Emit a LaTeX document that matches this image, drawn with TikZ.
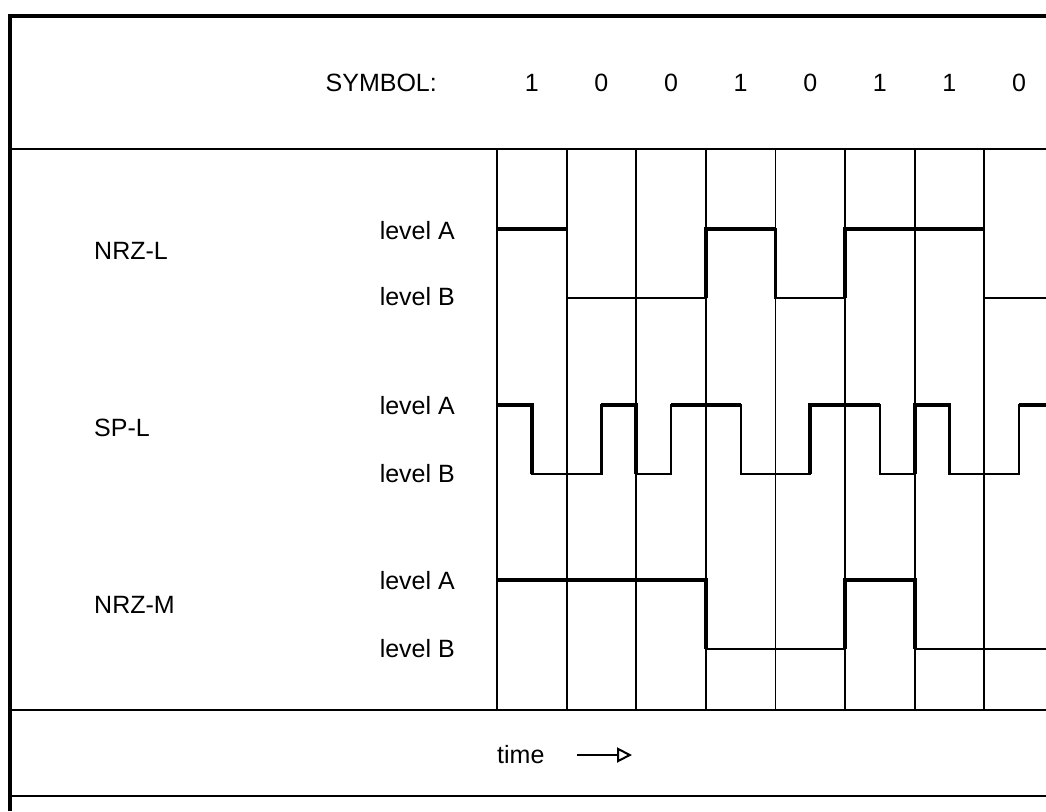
\documentclass[tikz,border=0pt]{standalone}
\usepackage{fontspec}
\setmainfont{Liberation Sans}
\usetikzlibrary{arrows.meta}
\begin{document}
\begin{tikzpicture}[x=1pt,y=-1pt,
  frame/.style={line width=4pt},
  rule/.style={line width=2.6pt},
  gridline/.style={line width=1.8pt},
  sig/.style={line width=2.2pt, line join=miter, line cap=rect},
  hi/.style={line width=3.8pt},
  lbl/.style={font=\fontsize{25}{30}\selectfont, inner sep=0pt},
]
\useasboundingbox (0,0) rectangle (1046,811);
\fill[white] (0,0) rectangle (1046,811);
\begin{scope}
\clip (0,0) rectangle (1046,811);
% frame and rules
\draw[frame] (10,811) -- (10,16) -- (1046,16);
\draw[rule] (10,149) -- (1046,149);
\draw[rule] (10,710) -- (1046,710);
\draw[rule] (10,796) -- (1046,796);
% grid
\foreach \i in {0,...,7} \draw[gridline] ({497+69.6*\i},149) -- ({497+69.6*\i},710);
% NRZ-L
\draw[sig] (497,229) -- (566.6,229) -- (566.6,298) -- (705.8,298) -- (705.8,229) -- (775.4,229) -- (775.4,298) -- (845,298) -- (845,229) -- (984.2,229) -- (984.2,298) -- (1046,298);
\draw[hi] (497,229) -- (566.6,229) (705.8,298) -- (705.8,229) -- (775.4,229) (845,298) -- (845,229) -- (984.2,229);
% SP-L
\draw[sig] (497,405) -- (531.8,405) -- (531.8,474) -- (601.4,474) -- (601.4,405) -- (636.2,405) -- (636.2,474) -- (671,474) -- (671,405) -- (740.6,405) -- (740.6,474) -- (810.2,474) -- (810.2,405) -- (879.8,405) -- (879.8,474) -- (914.6,474) -- (914.6,405) -- (949.4,405) -- (949.4,474) -- (1019,474) -- (1019,405) -- (1046,405);
\draw[hi] (497,405) -- (531.8,405) -- (531.8,474) (601.4,405) -- (636.2,405) -- (636.2,474) (671,405) -- (740.6,405) (810.2,474) -- (810.2,405) -- (879.8,405) (914.6,474) -- (914.6,405) -- (949.4,405) -- (949.4,474) (1019,405) -- (1046,405);
% NRZ-M
\draw[sig] (497,580) -- (705.8,580) -- (705.8,649) -- (845,649) -- (845,580) -- (914.6,580) -- (914.6,649) -- (1046,649);
\draw[hi] (497,580) -- (705.8,580) -- (705.8,649) (845,649) -- (845,580) -- (914.6,580) -- (914.6,649);
\end{scope}
% header
\node[lbl, anchor=east] (sym) at (437,83) {SYMBOL:};
\node[lbl] (d1) at (531.8,83) {1};
\node[lbl] (d2) at (601.4,83) {0};
\node[lbl] (d3) at (671,83) {0};
\node[lbl] (d4) at (740.6,83) {1};
\node[lbl] (d5) at (810.2,83) {0};
\node[lbl] (d6) at (879.8,83) {1};
\node[lbl] (d7) at (949.4,83) {1};
\node[lbl] (d8) at (1019,83) {0};
% code names
\node[lbl, anchor=west] (nrzl) at (94,251) {NRZ-L};
\node[lbl, anchor=west] (spl) at (94,428) {SP-L};
\node[lbl, anchor=west] (nrzm) at (94,605) {NRZ-M};
% level labels
\node[lbl, anchor=east] (la1) at (455,231) {level A};
\node[lbl, anchor=east] (lb1) at (455,297) {level B};
\node[lbl, anchor=east] (la2) at (455,406) {level A};
\node[lbl, anchor=east] (lb2) at (455,474) {level B};
\node[lbl, anchor=east] (la3) at (455,581) {level A};
\node[lbl, anchor=east] (lb3) at (455,649) {level B};
% time axis
\node[lbl, anchor=west] (time) at (497,755) {time};
\coordinate (arrS) at (577,755);
\coordinate (arrE) at (632,755);
\draw[line width=2pt, -{Triangle[open,length=15pt,width=15pt,line width=2pt]}] (arrS) -- (arrE);
\end{tikzpicture}
\end{document}
